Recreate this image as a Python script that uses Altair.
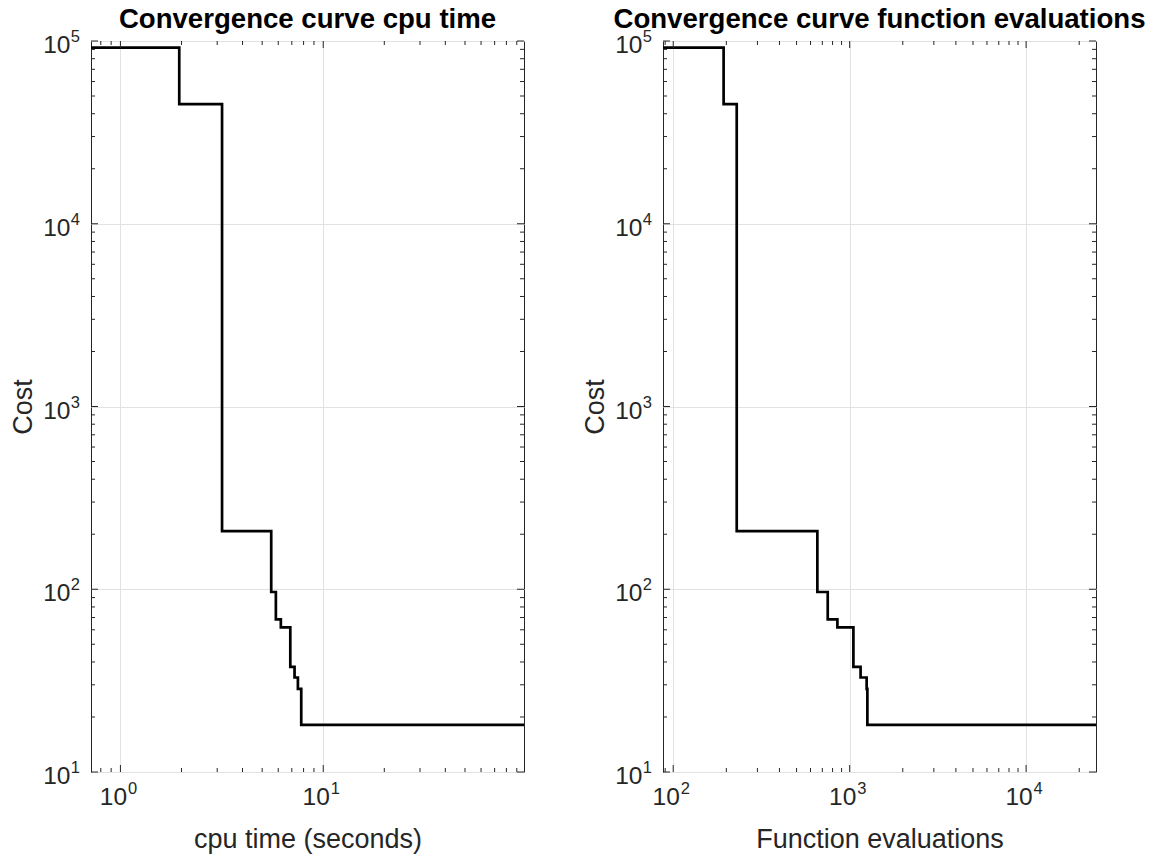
import altair as alt
import pandas as pd

# ---- data ----
cpu_time = [0.716, 1.95, 3.17, 5.54, 5.84, 6.18, 6.88, 7.22, 7.50, 7.79, 97.7]
func_evals = [87.5, 193, 229, 656, 751, 852, 1050, 1153, 1248, 1260, 24900]
cost = [92000, 45100, 208, 96.6, 68.5, 61.8, 37.6, 32.9, 28.5, 18.1, 18.1]

# ---- ticks ----
y_major = [10, 100, 1000, 10000, 100000]
y_major_exp = ["1", "2", "3", "4", "5"]
y_minor = [20, 30, 40, 50, 60, 70, 80, 90,
           200, 300, 400, 500, 600, 700, 800, 900,
           2000, 3000, 4000, 5000, 6000, 7000, 8000, 9000,
           20000, 30000, 40000, 50000, 60000, 70000, 80000, 90000]

cpu_domain = [0.716, 97.7]
cpu_major = [1, 10]
cpu_major_exp = ["0", "1"]
cpu_minor = [0.8, 0.9, 2, 3, 4, 5, 6, 7, 8, 9, 20, 30, 40, 50, 60, 70, 80, 90]

fe_domain = [87.5, 24900]
fe_major = [100, 1000, 10000]
fe_major_exp = ["2", "3", "4"]
fe_minor = [90, 200, 300, 400, 500, 600, 700, 800, 900,
            2000, 3000, 4000, 5000, 6000, 7000, 8000, 9000, 20000]

W, H = 433, 731
FONT = "Liberation Sans"
INK = "#262626"
MAJ, MIN = 7, 4
TICK_FS, EXP_FS = 24.5, 16.5


def panel(xvals, xdomain, x_major, x_exp, x_minor, xtitle, title):
    xs = alt.Scale(type="log", domain=xdomain, nice=False)
    ys = alt.Scale(type="log", domain=[10, 100000], nice=False)
    xa = alt.Axis(values=x_major, grid=True, labels=False, ticks=False, domain=False,
                  title=xtitle, titlePadding=75, titleBaseline="alphabetic")
    ya = alt.Axis(values=y_major, grid=True, labels=False, ticks=False, domain=False,
                  title="Cost", titlePadding=60, titleBaseline="alphabetic")

    def X():
        return alt.X("v:Q", scale=xs, axis=xa, title=xtitle)

    def Y():
        return alt.Y("c:Q", scale=ys, axis=ya, title="Cost")

    line = alt.Chart(pd.DataFrame({"v": xvals, "c": cost})).mark_line(
        interpolate="step-after", color="black", strokeWidth=2.7
    ).encode(x=X(), y=Y())

    def xticks(vals, ln):
        df = pd.DataFrame({"v": vals})
        b = alt.Chart(df).mark_rule(color=INK, strokeWidth=1)
        bottom = b.encode(x=X(), y=alt.value(H), y2=alt.value(H - ln))
        top = b.encode(x=X(), y=alt.value(0), y2=alt.value(ln))
        return [bottom, top]

    def yticks(vals, ln):
        df = pd.DataFrame({"c": vals})
        b = alt.Chart(df).mark_rule(color=INK, strokeWidth=1)
        left = b.encode(y=Y(), x=alt.value(0), x2=alt.value(ln))
        right = b.encode(y=Y(), x=alt.value(W), x2=alt.value(W - ln))
        return [left, right]

    xl = pd.DataFrame({"v": x_major, "t": ["10"] * len(x_major), "e": x_exp})
    x_base = alt.Chart(xl).mark_text(font=FONT, fontSize=TICK_FS, color=INK,
                                     align="center", baseline="alphabetic",
                                     dx=-7, dy=33).encode(
        x=X(), y=alt.value(H), text="t:N")
    x_sup = alt.Chart(xl).mark_text(font=FONT, fontSize=EXP_FS, color=INK,
                                    align="left", baseline="alphabetic",
                                    dx=7.5, dy=22).encode(
        x=X(), y=alt.value(H), text="e:N")

    yl = pd.DataFrame({"c": y_major, "t": ["10"] * len(y_major), "e": y_major_exp})
    y_base = alt.Chart(yl).mark_text(font=FONT, fontSize=TICK_FS, color=INK,
                                     align="right", baseline="alphabetic",
                                     dx=-20.5, dy=12).encode(
        y=Y(), x=alt.value(0), text="t:N")
    y_sup = alt.Chart(yl).mark_text(font=FONT, fontSize=EXP_FS, color=INK,
                                    align="right", baseline="alphabetic",
                                    dx=-11, dy=1).encode(
        y=Y(), x=alt.value(0), text="e:N")

    layers = [line] + xticks(x_major, MAJ) + xticks(x_minor, MIN) \
        + yticks(y_major, MAJ) + yticks(y_minor, MIN) + [x_base, x_sup, y_base, y_sup]
    return alt.layer(*layers).properties(
        width=W, height=H,
        title=alt.TitleParams(text=title, baseline="alphabetic", offset=-27,
                              anchor="middle"),
    )


left = panel(cpu_time, cpu_domain, cpu_major, cpu_major_exp, cpu_minor,
             "cpu time (seconds)", "Convergence curve cpu time")
right = panel(func_evals, fe_domain, fe_major, fe_major_exp, fe_minor,
              "Function evaluations", "Convergence curve function evaluations")

chart = alt.hconcat(left, right, spacing=50).properties(
    padding={"left": 8, "top": 5, "right": 5, "bottom": 5},
    background="white",
).configure_view(
    stroke=INK, strokeWidth=1
).configure_axis(
    gridColor="#e2e2e2", gridWidth=1, minExtent=0,
    titleFont=FONT, titleFontSize=27, titleFontWeight="normal", titleColor=INK,
).configure_title(
    font=FONT, fontSize=27.6, fontWeight="bold", color="black",
)

chart.save("out.html", embed_options={"renderer": "svg", "actions": False})
